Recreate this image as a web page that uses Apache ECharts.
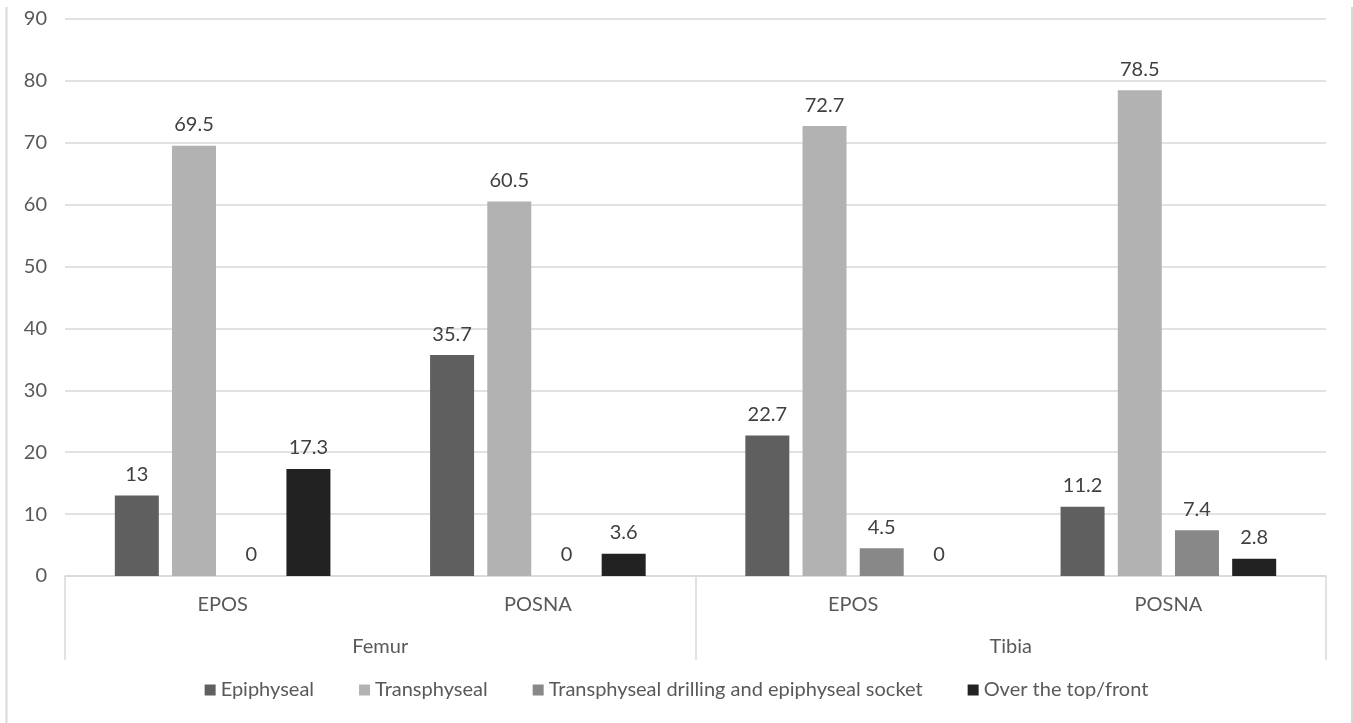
<!DOCTYPE html>
<html>
<head>
<meta charset="utf-8">
<script src="https://cdn.jsdelivr.net/npm/echarts@6/dist/echarts.min.js"></script>
<style>html,body{margin:0;padding:0;background:#fff;}#c{width:1353px;height:723px;}</style>
</head>
<body>
<div id="c"></div>
<script>
const subCategories = ['EPOS', 'POSNA', 'EPOS', 'POSNA'];
const groupCategories = ['Femur', 'Tibia'];
const seriesNames = ['Epiphyseal', 'Transphyseal', 'Transphyseal drilling and epiphyseal socket', 'Over the top/front'];
const epiphyseal = [13, 35.7, 22.7, 11.2];
const transphyseal = [69.5, 60.5, 72.7, 78.5];
const drillingSocket = [0, 0, 4.5, 7.4];
const overTheTop = [17.3, 3.6, 0, 2.8];
const yTicks = { min: 0, max: 90, interval: 10 };

const colors = ['#5f5f5f', '#b2b2b2', '#888888', '#222222'];
const FONT = 'Lato';
const FS = 20;
const seriesData = [epiphyseal, transphyseal, drillingSocket, overTheTop];

const chart = echarts.init(document.getElementById('c'));
chart.setOption({
  animation: false,
  textStyle: { fontFamily: FONT },
  graphic: [
    { type: 'line', shape: { x1: 6.5, y1: 7, x2: 6.5, y2: 723 }, style: { stroke: '#d9d9d9', lineWidth: 2 } },
    { type: 'line', shape: { x1: 1352, y1: 7, x2: 1352, y2: 723 }, style: { stroke: '#d9d9d9', lineWidth: 2 } }
  ],
  legend: {
    bottom: 18,
    left: 'center',
    itemWidth: 11,
    itemHeight: 11,
    itemGap: 45,
    icon: 'rect',
    textStyle: { color: '#595959', fontSize: 20, fontFamily: FONT },
    data: seriesNames
  },
  grid: { left: 65, right: 27, top: 19, bottom: 147, containLabel: false },
  xAxis: [
    {
      type: 'category',
      data: subCategories,
      position: 'bottom',
      axisLine: { lineStyle: { color: '#d9d9d9', width: 1.5 } },
      axisTick: { show: false },
      axisLabel: { color: '#595959', fontSize: FS, margin: 19, fontFamily: FONT }
    },
    {
      type: 'category',
      data: groupCategories,
      position: 'bottom',
      axisLine: { show: false },
      axisTick: { show: true, length: 84, lineStyle: { color: '#d9d9d9', width: 1.5 } },
      axisLabel: { color: '#595959', fontSize: FS, margin: 61, fontFamily: FONT }
    }
  ],
  yAxis: {
    type: 'value',
    min: yTicks.min,
    max: yTicks.max,
    interval: yTicks.interval,
    axisLine: { show: false },
    axisTick: { show: false },
    axisLabel: { color: '#595959', fontSize: FS, margin: 18, fontFamily: FONT },
    splitLine: { lineStyle: { color: '#d9d9d9', width: 1.5 } }
  },
  series: seriesNames.map((name, i) => ({
    name: name,
    type: 'bar',
    xAxisIndex: 0,
    data: seriesData[i],
    barWidth: 44,
    barGap: '30%',
    itemStyle: { color: colors[i] },
    label: {
      show: true,
      position: 'top',
      distance: 11,
      color: '#404040',
      fontSize: FS,
      fontFamily: FONT
    }
  }))
});
</script>
</body>
</html>
